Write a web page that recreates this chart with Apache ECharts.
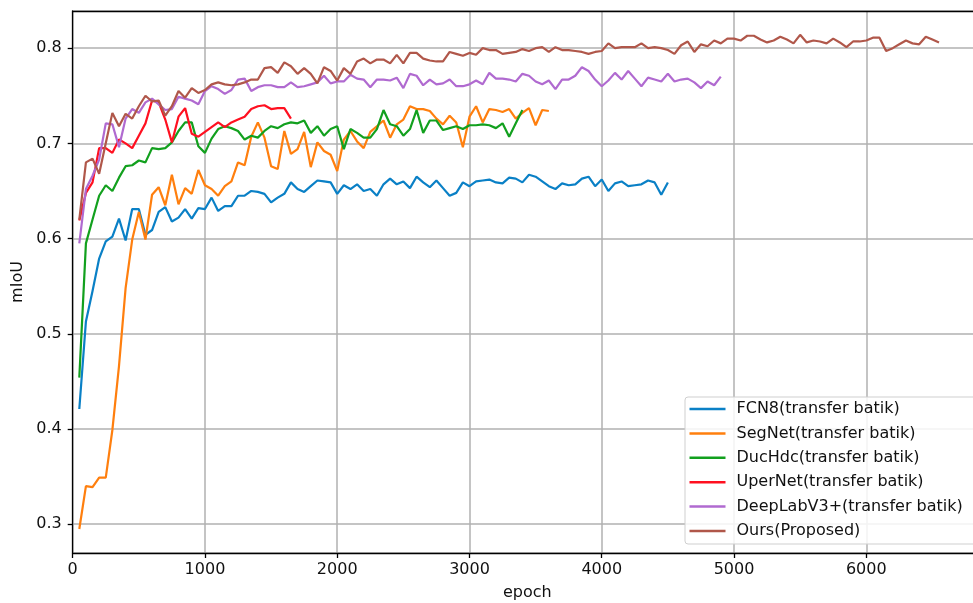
<!DOCTYPE html>
<html>
<head>
<meta charset="utf-8">
<script src="https://cdn.jsdelivr.net/npm/echarts@6/dist/echarts.min.js"></script>
<style>
  html, body { margin: 0; padding: 0; background: #fff; }
  #chart { width: 973px; height: 603px; }
</style>
</head>
<body>
<div id="chart"></div>
<script>
// mIoU logged every 50 epochs, first point at epoch 50
const EPOCH_STEP = 50

const fcn8 = [
  0.421, 0.513, 0.545, 0.579, 0.597, 0.602, 0.621, 0.598, 0.631, 0.631,
  0.604, 0.609, 0.628, 0.633, 0.618, 0.622, 0.631, 0.621, 0.632, 0.631,
  0.643, 0.629, 0.634, 0.634, 0.645, 0.645, 0.650, 0.649, 0.647, 0.638,
  0.643, 0.647, 0.659, 0.652, 0.649, 0.655, 0.661, 0.660, 0.659, 0.647,
  0.656, 0.652, 0.657, 0.650, 0.652, 0.645, 0.657, 0.663, 0.657, 0.660,
  0.653, 0.665, 0.659, 0.654, 0.661, 0.653, 0.645, 0.648, 0.659, 0.655,
  0.660, 0.661, 0.662, 0.659, 0.658, 0.664, 0.663, 0.659, 0.667, 0.665,
  0.660, 0.655, 0.652, 0.658, 0.656, 0.657, 0.663, 0.665, 0.655, 0.662,
  0.650, 0.658, 0.660, 0.655, 0.656, 0.657, 0.661, 0.659, 0.646, 0.659
]

const segnet = [
  0.295, 0.340, 0.339, 0.349, 0.349, 0.399, 0.466, 0.548, 0.599, 0.628,
  0.599, 0.646, 0.654, 0.635, 0.667, 0.636, 0.653, 0.647, 0.672, 0.656,
  0.652, 0.645, 0.655, 0.660, 0.680, 0.677, 0.707, 0.722, 0.706, 0.676,
  0.673, 0.713, 0.689, 0.694, 0.712, 0.675, 0.701, 0.692, 0.688, 0.671,
  0.704, 0.713, 0.702, 0.695, 0.712, 0.718, 0.724, 0.706, 0.720, 0.725,
  0.739, 0.736, 0.736, 0.734, 0.726, 0.720, 0.729, 0.722, 0.696, 0.728,
  0.739, 0.722, 0.736, 0.735, 0.733, 0.736, 0.726, 0.732, 0.737, 0.719,
  0.735, 0.734
]

const duchdc = [
  0.454, 0.595, 0.620, 0.645, 0.656, 0.650, 0.664, 0.676, 0.677, 0.682,
  0.680, 0.695, 0.694, 0.695, 0.701, 0.713, 0.722, 0.722, 0.697, 0.690,
  0.705, 0.715, 0.718, 0.716, 0.713, 0.704, 0.708, 0.706, 0.713, 0.718,
  0.716, 0.720, 0.722, 0.721, 0.724, 0.711, 0.718, 0.708, 0.715, 0.718,
  0.694, 0.715, 0.711, 0.706, 0.706, 0.715, 0.735, 0.720, 0.718, 0.708,
  0.715, 0.735, 0.711, 0.724, 0.724, 0.714, 0.716, 0.718, 0.715, 0.719,
  0.719, 0.720, 0.719, 0.716, 0.721, 0.707, 0.721, 0.735
]

const upernet = [
  0.619, 0.648, 0.659, 0.695, 0.695, 0.690, 0.704, 0.700, 0.695, 0.708,
  0.721, 0.745, 0.743, 0.725, 0.701, 0.728, 0.737, 0.710, 0.707, 0.712,
  0.717, 0.722, 0.717, 0.722, 0.725, 0.728, 0.736, 0.739, 0.740, 0.736,
  0.737, 0.737, 0.726
]

const deeplab = [
  0.595, 0.652, 0.666, 0.683, 0.721, 0.720, 0.696, 0.726, 0.736, 0.732,
  0.743, 0.747, 0.741, 0.735, 0.736, 0.749, 0.747, 0.745, 0.741, 0.755,
  0.760, 0.757, 0.752, 0.756, 0.767, 0.768, 0.755, 0.759, 0.761, 0.761,
  0.759, 0.759, 0.764, 0.759, 0.760, 0.762, 0.764, 0.771, 0.763, 0.765,
  0.765, 0.772, 0.768, 0.767, 0.759, 0.767, 0.767, 0.766, 0.769, 0.758,
  0.773, 0.771, 0.761, 0.767, 0.762, 0.763, 0.767, 0.760, 0.760, 0.762,
  0.766, 0.762, 0.774, 0.768, 0.768, 0.767, 0.765, 0.773, 0.771, 0.765,
  0.762, 0.766, 0.757, 0.767, 0.767, 0.771, 0.780, 0.776, 0.767, 0.760,
  0.766, 0.774, 0.767, 0.776, 0.768, 0.760, 0.769, 0.767, 0.765, 0.773,
  0.765, 0.767, 0.768, 0.764, 0.758, 0.765, 0.761, 0.770
]

const ours = [
  0.620, 0.680, 0.684, 0.668, 0.700, 0.732, 0.718, 0.731, 0.726, 0.739,
  0.750, 0.744, 0.745, 0.729, 0.739, 0.755, 0.748, 0.758, 0.753, 0.756,
  0.762, 0.764, 0.762, 0.761, 0.762, 0.764, 0.767, 0.767, 0.779, 0.780,
  0.774, 0.785, 0.781, 0.773, 0.779, 0.773, 0.763, 0.780, 0.776, 0.766,
  0.779, 0.773, 0.786, 0.789, 0.784, 0.788, 0.788, 0.784, 0.793, 0.784,
  0.795, 0.795, 0.789, 0.787, 0.786, 0.786, 0.796, 0.794, 0.792, 0.795,
  0.793, 0.800, 0.798, 0.798, 0.794, 0.795, 0.796, 0.799, 0.797, 0.800,
  0.801, 0.796, 0.801, 0.798, 0.798, 0.797, 0.796, 0.794, 0.796, 0.797,
  0.805, 0.800, 0.801, 0.801, 0.801, 0.805, 0.800, 0.801, 0.800, 0.798,
  0.794, 0.803, 0.807, 0.796, 0.804, 0.802, 0.808, 0.805, 0.810, 0.810,
  0.808, 0.813, 0.813, 0.809, 0.806, 0.808, 0.812, 0.809, 0.805, 0.814,
  0.806, 0.808, 0.807, 0.805, 0.810, 0.806, 0.801, 0.807, 0.807, 0.808,
  0.811, 0.811, 0.797, 0.800, 0.804, 0.808, 0.805, 0.804, 0.812, 0.809,
  0.806
]

const seriesNames = [
  'FCN8(transfer batik)',
  'SegNet(transfer batik)',
  'DucHdc(transfer batik)',
  'UperNet(transfer batik)',
  'DeepLabV3+(transfer batik)',
  'Ours(Proposed)'
]
const seriesValues = [fcn8, segnet, duchdc, upernet, deeplab, ours]
const colors = ['#0a80c6', '#ff7f0e', '#12a01e', '#ff1020', '#b06ad0', '#b0574a']

const FONT = 'DejaVu Sans'
const TXT = '#111'

const withEpochs = (vals) => vals.map((v, i) => [(i + 1) * EPOCH_STEP, v])

const chart = echarts.init(document.getElementById('chart'), null, { renderer: 'canvas' })

const option = {
  backgroundColor: '#fff',
  animation: false,
  color: colors,
  textStyle: { fontFamily: FONT },
  grid: {
    left: 72.7,
    top: 11,
    right: -9,
    bottom: 50,
    containLabel: false,
    outerBoundsMode: 'none'
  },
  // legend frame runs past the right edge of the figure (clipped, like the original)
  graphic: [
    {
      type: 'rect',
      z: 50,
      silent: true,
      shape: { x: 685, y: 397, width: 320, height: 147, r: 3 },
      style: { fill: 'rgba(255,255,255,0.85)', stroke: '#cfcfcf', lineWidth: 1 }
    }
  ],
  legend: {
    orient: 'vertical',
    left: 685,
    top: 397,
    z: 60,
    padding: [4, 10, 6, 4.5],
    itemWidth: 36,
    itemHeight: 2.5,
    itemGap: 8.4,
    icon: 'rect',
    textStyle: {
      fontFamily: FONT,
      fontSize: 16,
      lineHeight: 16,
      color: TXT,
      padding: [0, 0, 0, 6]
    },
    data: seriesNames
  },
  xAxis: [
    {
      type: 'value',
      min: 0,
      max: 6875,
      interval: 1000,
      name: 'epoch',
      nameLocation: 'middle',
      nameGap: 32,
      nameTextStyle: { fontFamily: FONT, fontSize: 16, color: TXT },
      axisLine: { show: true, onZero: false, lineStyle: { color: '#000', width: 1.3 } },
      axisTick: { show: true, length: 5, lineStyle: { color: '#000', width: 1.3 } },
      axisLabel: {
        fontFamily: FONT,
        fontSize: 16,
        color: TXT,
        margin: 9,
        showMaxLabel: false,
        formatter: (v) => String(v)
      },
      splitLine: { show: true, lineStyle: { color: '#b0b0b0', width: 1.5 } }
    },
    {
      type: 'value',
      position: 'top',
      min: 0,
      max: 6875,
      z: 5,
      axisLine: { show: true, onZero: false, lineStyle: { color: '#000', width: 1.3 } },
      axisTick: { show: false },
      axisLabel: { show: false },
      splitLine: { show: false }
    }
  ],
  yAxis: {
    type: 'value',
    min: 0.2698,
    max: 0.839,
    splitNumber: 5,
    name: 'mIoU',
    nameLocation: 'middle',
    nameRotate: 90,
    nameGap: 38,
    nameTextStyle: { fontFamily: FONT, fontSize: 16, color: TXT },
    axisLine: { show: true, onZero: false, lineStyle: { color: '#000', width: 1.3 } },
    axisTick: { show: true, length: 5, lineStyle: { color: '#000', width: 1.3 } },
    axisLabel: {
      fontFamily: FONT,
      fontSize: 16,
      color: TXT,
      margin: 11,
      showMinLabel: false,
      showMaxLabel: false,
      formatter: (v) => v.toFixed(1)
    },
    splitLine: { show: true, lineStyle: { color: '#b0b0b0', width: 1.5 } }
  },
  series: seriesNames.map((name, i) => ({
    name,
    type: 'line',
    xAxisIndex: 0,
    symbol: 'none',
    lineStyle: { width: 2.2 },
    data: withEpochs(seriesValues[i])
  }))
}

chart.setOption(option)
</script>
</body>
</html>
